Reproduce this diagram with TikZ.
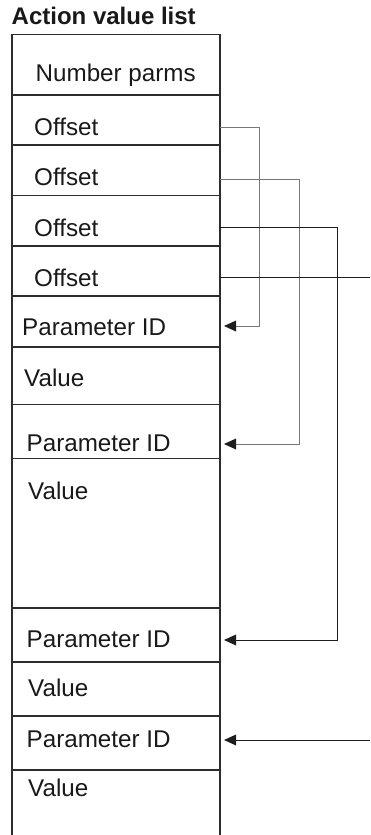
\documentclass[tikz,border=0pt]{standalone}
\usepackage{fontspec}
\setmainfont{Liberation Sans}
\usetikzlibrary{arrows.meta}
\definecolor{boxline}{RGB}{45,45,45}
\definecolor{lightconn}{RGB}{120,120,120}
\definecolor{darkconn}{RGB}{30,30,30}
\tikzset{
  lbl/.style={anchor=base west, inner sep=0pt, font=\fontsize{24.2}{28}\selectfont, text=black!90},
  ttl/.style={anchor=base west, inner sep=0pt, font=\fontsize{24}{28}\selectfont\bfseries, text=black!90},
  boxl/.style={draw=boxline, line width=1.1pt},
  conn/.style={line width=1pt},
  tipfill/.style={fill=darkconn}
}
\begin{document}
\begin{tikzpicture}[x=1pt,y=-1pt]
\useasboundingbox (0,0) rectangle (370,835);
% title
\node[ttl] (title) at (11.5,24) {Action value list};
% box outline
\draw[boxl] (12,835) -- (12,34.5) -- (220,34.5) -- (220,835);
\foreach \yy in {95,145,195.5,246,296,347,404.5,458.5,608,662,716,770}
  \draw[boxl] (12,\yy) -- (220,\yy);
% labels
\node[lbl] (np) at (35.5,81) {Number parms};
\node[lbl] (of1) at (34,135) {Offset};
\node[lbl] (of2) at (34,185.7) {Offset};
\node[lbl] (of3) at (34,236) {Offset};
\node[lbl] (of4) at (34,286) {Offset};
\node[lbl] (pid1) at (22,335.7) {Parameter ID};
\node[lbl] (val1) at (24,386) {Value};
\node[lbl] (pid2) at (26.5,451.7) {Parameter ID};
\node[lbl] (val2) at (28,499) {Value};
\node[lbl] (pid3) at (26.5,647.3) {Parameter ID};
\node[lbl] (val3) at (28,696.7) {Value};
\node[lbl] (pid4) at (26.5,747.3) {Parameter ID};
\node[lbl] (val4) at (28,796.7) {Value};
% connector ends
\coordinate (s1) at (220,127.3);
\coordinate (s2) at (220,179.3);
\coordinate (s3) at (219,227.3);
\coordinate (s4) at (220,277.7);
\coordinate (t1) at (224,326);
\coordinate (t2) at (224,444);
\coordinate (t3) at (224,640);
\coordinate (t4) at (224,740);
\coordinate (e4) at (370,277.7);
\coordinate (e5) at (370,740);
% connectors
\draw[conn, draw=lightconn] (s1) -| (259,326) -- ([xshift=6pt]t1);
\draw[conn, draw=lightconn] (s2) -| (299.7,444) -- ([xshift=6pt]t2);
\draw[conn, draw=darkconn] (s3) -| (337.7,640) -- ([xshift=6pt]t3);
\draw[conn, draw=darkconn] (s4) -- (e4);
\draw[conn, draw=darkconn] (e5) -- ([xshift=6pt]t4);
\foreach \t in {t1,t2,t3,t4}
  \fill[tipfill] (\t) ++(12,-5.5) -- (\t) -- ++(12,5.5) -- cycle;
\end{tikzpicture}
\end{document}
